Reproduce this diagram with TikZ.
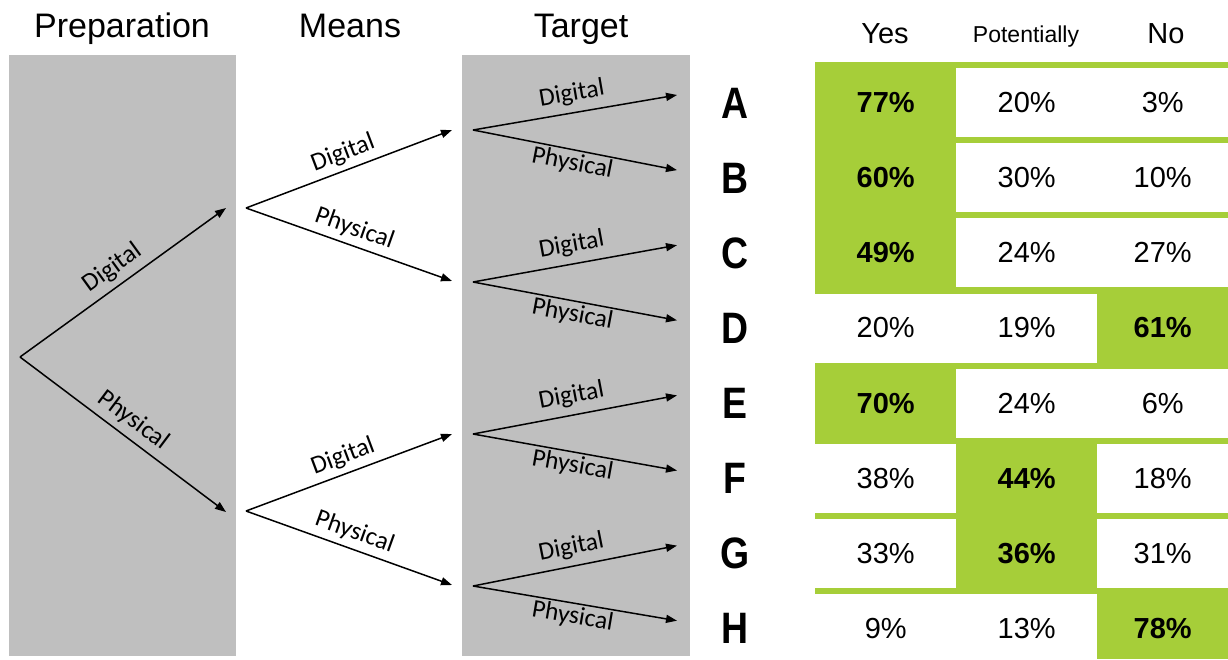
\documentclass[tikz,border=0pt]{standalone}
\usepackage{fontspec}
\setmainfont{Liberation Sans}
\newfontfamily\branchfont{Carlito}
\newfontfamily\rowfont[FakeStretch=0.85]{Liberation Sans Bold}
\usetikzlibrary{arrows.meta}

\definecolor{panelgray}{HTML}{BFBFBF}
\definecolor{hitgreen}{HTML}{A6CE39}

\begin{document}
\begin{tikzpicture}[x=1pt,y=-1pt,
  branch/.style={line width=1.5pt,-{Triangle[length=11pt,width=8pt]}},
  lab/.style={font=\branchfont\fontsize{25.5}{25.5}\selectfont,sloped,midway,inner sep=2pt},
  title/.style={font=\fontsize{34}{34}\selectfont,anchor=base},
  colhead/.style={font=\fontsize{29}{29}\selectfont,anchor=base},
  rowname/.style={font=\rowfont\fontsize{44}{44}\selectfont},
  cell/.style={anchor=north west,minimum height=69pt,inner sep=0pt,
    font=\fontsize{29}{29}\selectfont},
  hit/.style={font=\bfseries\fontsize{29}{29}\selectfont}]
  \useasboundingbox (0,0) rectangle (1228,659);

  % grey panels and titles
  \fill[panelgray] (9,55) rectangle (236,656);
  \fill[panelgray] (462,55) rectangle (690,656);
  \node[title] (prep) at (122,37) {Preparation};
  \node[title] (means) at (350,37) {Means};
  \node[title] (target) at (581,37) {Target};

  % table
  \fill[hitgreen] (815,62) rectangle (1228,659);
  \node[colhead] (yes) at (885,43) {Yes};
  \node[colhead,font=\fontsize{23}{23}\selectfont] (maybe) at (1026,42) {Potentially};
  \node[colhead] (no) at (1166,43) {No};

  \foreach \row/\yes/\maybe/\no/\best [count=\i from 0] in
    {A/77/20/3/1, B/60/30/10/1, C/49/24/27/1, D/20/19/61/3,
     E/70/24/6/1, F/38/44/18/2, G/33/36/31/2, H/9/13/78/3}{
    \pgfmathsetmacro\top{68+75.1*\i}
    \node[rowname] (\row) at (735,\top+35) {\row};
    \coordinate (t\row) at (677,\top+27);
    \foreach \val/\x/\w [count=\j] in {\yes/815/141, \maybe/956/141, \no/1097/131}{
      \ifnum\j=\best
        \node[cell,hit,minimum width=\w pt] (\row-\j) at (\x,\top) {\val\%};
      \else
        \node[cell,fill=white,minimum width=\w pt] (\row-\j) at (\x,\top) {\val\%};
      \fi
    }
  }

  % decision tree
  \coordinate (root) at (20,357);
  \coordinate (d-tip) at (226,208);
  \coordinate (p-tip) at (226,512);
  \coordinate (d) at (246,208);
  \coordinate (p) at (246,511);
  \coordinate (dd-tip) at (452,130);
  \coordinate (dp-tip) at (452,281);
  \coordinate (pd-tip) at (452,434);
  \coordinate (pp-tip) at (452,585);
  \coordinate (dd) at (473,130);
  \coordinate (dp) at (473,282);
  \coordinate (pd) at (473,434);
  \coordinate (pp) at (473,586);

  \draw[branch] (root) -- node[lab,above=4pt] {Digital} (d-tip);
  \draw[branch] (root) -- node[lab,above=4pt] {Physical} (p-tip);
  \draw[branch] (d) -- node[lab,above=3pt] {Digital} (dd-tip);
  \draw[branch] (d) -- node[lab,above=3pt] {Physical} (dp-tip);
  \draw[branch] (p) -- node[lab,above=3pt] {Digital} (pd-tip);
  \draw[branch] (p) -- node[lab,above=3pt] {Physical} (pp-tip);
  \foreach \src/\up/\down in {dd/A/B, dp/C/D, pd/E/F, pp/G/H}{
    \draw[branch] (\src) -- node[lab,above=5pt] {Digital} (t\up);
    \draw[branch] (\src) -- node[lab,below=0pt] {Physical} (t\down);
  }
\end{tikzpicture}
\end{document}
